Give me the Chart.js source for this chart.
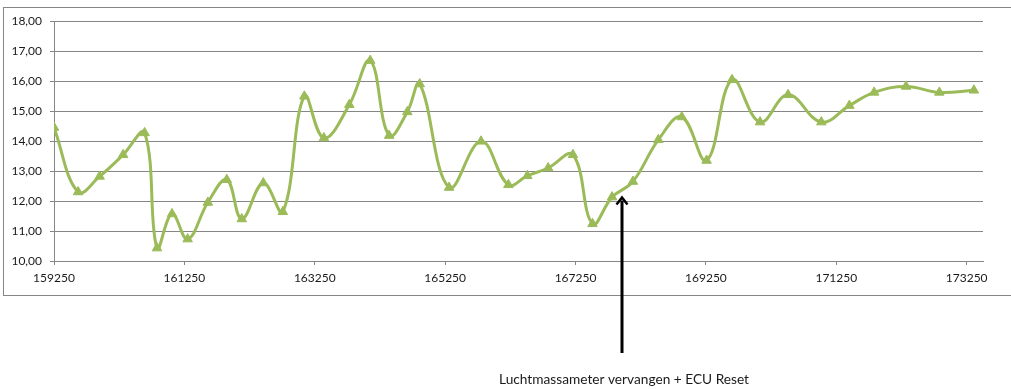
<!DOCTYPE html>
<html lang="nl">
<head>
    <meta charset="UTF-8">
    <title>Luchtmassameter</title>
    <script src="https://cdn.jsdelivr.net/npm/chart.js"></script>
    <style>
        html, body {
            margin: 0;
            padding: 0;
            background: white;
        }
        .chart-box {
            position: relative;
            width: 1011px;
            height: 389px;
        }
    </style>
</head>
<body>
    <div class="chart-box">
        <canvas id="afstandChart"></canvas>
    </div>

    <script>
        // km-stand (x) and value (y)
        const kmStand = [
            159250, 159620, 159950, 160310, 160640, 160830, 161060, 161300, 161610, 161900,
            162130, 162460, 162760, 163090, 163390, 163780, 164100, 164390, 164670, 164860,
            165310, 165800, 166220, 166510, 166830, 167210, 167510, 167810, 168130, 168520,
            168880, 169260, 169650, 170080, 170510, 171020, 171450, 171830, 172320, 172830,
            173360
        ];
        const waarden = [
            14.45, 12.30, 12.82, 13.54, 14.27, 10.43, 11.57, 10.73, 11.95, 12.71,
            11.40, 12.60, 11.64, 15.49, 14.10, 15.21, 16.68, 14.18, 14.97, 15.90,
            12.45, 13.99, 12.54, 12.84, 13.10, 13.54, 11.24, 12.13, 12.65, 14.04,
            14.80, 13.35, 16.04, 14.63, 15.54, 14.63, 15.18, 15.62, 15.82, 15.62,
            15.69
        ];
        const xTicks = [159250, 161250, 163250, 165250, 167250, 169250, 171250, 173250];

        // annotation
        const arrowKm = 167960;
        const arrowTop = 12.15;
        const arrowText = 'Luchtmassameter vervangen + ECU Reset';

        const green = '#9bbb59';
        const grid = '#868686';
        const font = { family: 'Lato, "Open Sans", sans-serif', size: 12 };

        // Excel style chart area border + arrow with note underneath
        const extras = {
            id: 'extras',
            beforeDraw(chart) {
                const ctx = chart.ctx;
                ctx.save();
                ctx.strokeStyle = grid;
                ctx.lineWidth = 1;
                ctx.strokeRect(3.5, 7.5, 1020, 288);
                ctx.restore();
            },
            afterDraw(chart) {
                const ctx = chart.ctx;
                const x = Math.round(chart.scales.x.getPixelForValue(arrowKm));
                const yTip = chart.scales.y.getPixelForValue(arrowTop);
                const yEnd = chart.chartArea.bottom + 92;
                ctx.save();
                ctx.strokeStyle = '#000';
                ctx.fillStyle = '#000';
                ctx.lineWidth = 3;
                ctx.beginPath();
                ctx.moveTo(x, yEnd);
                ctx.lineTo(x, yTip + 4);
                ctx.stroke();
                ctx.lineWidth = 2.5;
                ctx.lineJoin = 'miter';
                ctx.beginPath();
                ctx.moveTo(x - 5.5, yTip + 8);
                ctx.lineTo(x, yTip + 1);
                ctx.lineTo(x + 5.5, yTip + 8);
                ctx.stroke();

                ctx.font = '13.7px ' + font.family;
                ctx.fillStyle = '#1a1a1a';
                ctx.textAlign = 'center';
                ctx.textBaseline = 'middle';
                ctx.fillText(arrowText, x + 2, chart.chartArea.bottom + 119);
                ctx.restore();
            }
        };

        new Chart(document.getElementById('afstandChart'), {
            type: 'line',
            data: {
                datasets: [{
                    data: kmStand.map((km, i) => ({ x: km, y: waarden[i] })),
                    borderColor: green,
                    backgroundColor: green,
                    borderWidth: 3,
                    tension: 0.4,
                    pointStyle: 'triangle',
                    pointRadius: 5.5,
                    pointBorderWidth: 1,
                    pointBackgroundColor: green,
                    pointBorderColor: green
                }]
            },
            options: {
                responsive: true,
                maintainAspectRatio: false,
                animation: false,
                layout: {
                    padding: { left: 0, right: 28, top: 21, bottom: 98 }
                },
                plugins: {
                    legend: { display: false },
                    tooltip: { enabled: false }
                },
                scales: {
                    x: {
                        type: 'linear',
                        min: 159250,
                        max: 173500,
                        afterBuildTicks: s => { s.ticks = xTicks.map(v => ({ value: v })); },
                        afterFit: s => { s.height = 30; },
                        grid: {
                            display: true,
                            drawOnChartArea: false,
                            color: grid,
                            tickLength: 4
                        },
                        border: { color: grid },
                        ticks: {
                            color: '#1a1a1a',
                            font: font,
                            padding: 6,
                            maxRotation: 0,
                            callback: v => String(v)
                        }
                    },
                    y: {
                        min: 10,
                        max: 18,
                        afterFit: s => { s.width = 54; },
                        grid: {
                            color: grid,
                            tickLength: 4
                        },
                        border: { color: grid },
                        ticks: {
                            stepSize: 1,
                            color: '#1a1a1a',
                            font: font,
                            padding: 8,
                            callback: v => v.toFixed(2).replace('.', ',')
                        }
                    }
                }
            },
            plugins: [extras]
        });
    </script>
</body>
</html>
